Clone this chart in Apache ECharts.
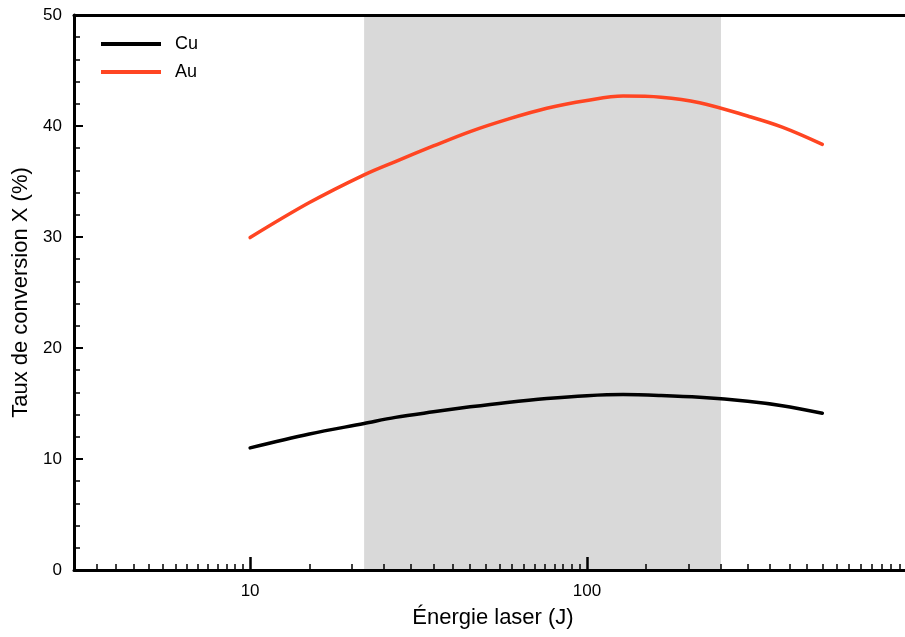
<!DOCTYPE html>
<html>
<head>
<meta charset="utf-8">
<script src="https://cdn.jsdelivr.net/npm/echarts@6/dist/echarts.min.js"></script>
<style>html,body{margin:0;padding:0;background:#fff}#c{width:905px;height:637px}</style>
</head>
<body>
<div id="c"></div>
<script>
const energies = [10, 15, 21.8, 27, 35, 45, 58, 76, 100, 128, 166, 216, 300, 380, 500];
const cuValues = [11.0, 12.25, 13.2, 13.75, 14.25, 14.7, 15.1, 15.45, 15.7, 15.8, 15.72, 15.56, 15.2, 14.8, 14.12];
const auValues = [29.95, 33.1, 35.6, 36.8, 38.2, 39.5, 40.6, 41.6, 42.3, 42.7, 42.6, 42.1, 40.9, 39.9, 38.35];
const shadedRange = [21.8, 250];
const xMajorTicks = [10, 100];
const xMinorTicks = [3.5,4,4.5,5,5.5,6,6.5,7,7.5,8,8.5,9,9.5,
  15,20,25,30,35,40,45,50,55,60,65,70,75,80,85,90,95,
  150,200,250,300,350,400,450,500,550,600,650,700,750,800,850];
const xMin = 3, xMax = 1080;

const font = 'Liberation Sans, Arial, Helvetica, sans-serif';
const chart = echarts.init(document.getElementById('c'), null, {renderer: 'canvas'});
const pair = (xs, ys) => xs.map((x, i) => [x, ys[i]]);

chart.setOption({
  animation: false,
  backgroundColor: '#fff',
  grid: {left: 74, right: -30, top: 15, bottom: 67, show: false, containLabel: false, outerBoundsMode: 'none'},
  legend: {
    orient: 'vertical', left: 96, top: 29, itemWidth: 60, itemHeight: 4, itemGap: 8,
    icon: 'rect',
    textStyle: {fontFamily: font, fontSize: 18, color: '#000', lineHeight: 20, padding: [0, 0, 0, 9]},
    data: ['Cu', 'Au']
  },
  xAxis: [{
    type: 'log', logBase: 10, min: xMin, max: xMax, position: 'bottom', z: 10,
    name: 'Énergie laser (J)', nameLocation: 'start', nameGap: -419,
    nameTextStyle: {fontFamily: font, fontSize: 22, color: '#000', align: 'center', verticalAlign: 'top', padding: [37, 0, 0, 0]},
    axisLine: {show: true, lineStyle: {color: '#000', width: 3}},
    axisTick: {show: true, inside: true, length: 13, customValues: xMajorTicks, lineStyle: {color: '#000', width: 2.5}},
    axisLabel: {show: true, customValues: xMajorTicks, fontFamily: font, fontSize: 17, color: '#000', margin: 13},
    splitLine: {show: false}, minorTick: {show: false}
  }, {
    type: 'log', logBase: 10, min: xMin, max: xMax, position: 'bottom', gridIndex: 0, z: 10,
    axisLine: {show: false},
    axisTick: {show: true, inside: true, length: 6, customValues: xMinorTicks, lineStyle: {color: '#000', width: 1.5}},
    axisLabel: {show: false}, splitLine: {show: false}
  }, {
    type: 'log', logBase: 10, min: xMin, max: xMax, position: 'top', gridIndex: 0, z: 10,
    axisLine: {show: true, onZero: false, lineStyle: {color: '#000', width: 3}},
    axisTick: {show: false}, axisLabel: {show: false}, splitLine: {show: false}
  }],
  yAxis: {
    type: 'value', min: 0, max: 50, interval: 10, z: 10,
    name: 'Taux de conversion X (%)', nameLocation: 'middle', nameGap: 42,
    nameTextStyle: {fontFamily: font, fontSize: 22, color: '#000'},
    axisLine: {show: true, lineStyle: {color: '#000', width: 3}},
    axisTick: {show: true, inside: true, length: 9, lineStyle: {color: '#000', width: 2}},
    minorTick: {show: true, splitNumber: 5, length: 6, lineStyle: {color: '#000', width: 1.5}},
    axisLabel: {fontFamily: font, fontSize: 17, color: '#000', margin: 12},
    splitLine: {show: false}
  },
  series: [{
    name: 'Cu', type: 'line', smooth: 0.35, showSymbol: false, symbol: 'none', z: 3,
    color: '#000', lineStyle: {color: '#000', width: 3.5, cap: 'round'},
    data: pair(energies, cuValues),
    markArea: {silent: true, z: 1, itemStyle: {color: '#d9d9d9'}, data: [[{xAxis: shadedRange[0]}, {xAxis: shadedRange[1]}]]}
  }, {
    name: 'Au', type: 'line', smooth: 0.35, showSymbol: false, symbol: 'none', z: 3,
    color: '#ff4522', lineStyle: {color: '#ff4522', width: 3.5, cap: 'round'},
    data: pair(energies, auValues)
  }]
});
</script>
</body>
</html>
